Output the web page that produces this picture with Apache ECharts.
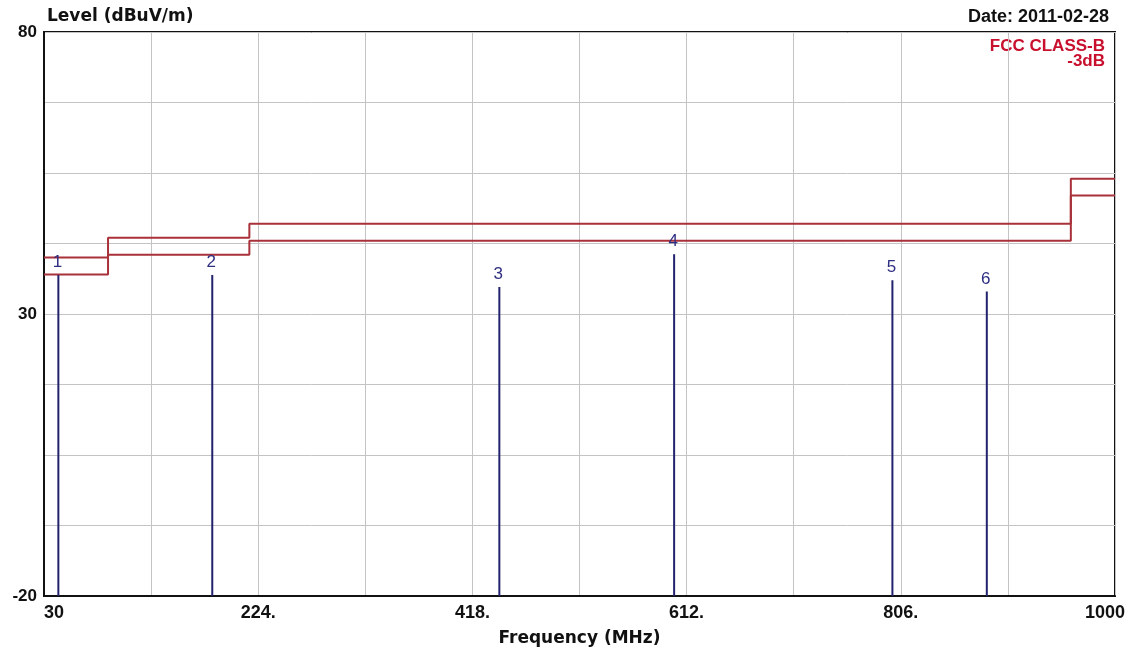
<!DOCTYPE html>
<html>
<head>
<meta charset="utf-8">
<script src="https://cdn.jsdelivr.net/npm/echarts@6/dist/echarts.min.js"></script>
<style>html,body{margin:0;padding:0;background:#fff;}#c{width:1137px;height:654px;}</style>
</head>
<body>
<div id="c"></div>
<script>
// Limit line: FCC Class B (step edges in MHz, levels in dBuV/m)
const limitEdges = [30, 88, 216, 960, 1000];
const limitLevels = [40, 43.5, 46, 54];
const marginLevels = [37, 40.5, 43, 51]; // limit -3dB
// Peak markers
const peakNames = ['1', '2', '3', '4', '5', '6'];
const peakFreqs = [43.0, 182.4, 442.4, 600.7, 798.4, 883.9];
const peakLevels = [36.9, 36.9, 34.8, 40.6, 36.0, 34.0];
// Axis labels
const xTickLabels = {30: '30', 224: '224.', 418: '418.', 612: '612.', 806: '806.', 1000: '1000'};
const yTickLabels = {'-20': '-20', '30': '30', '80': '80'};

function stepData(edges, levels) {
  const d = [];
  for (let i = 0; i < levels.length; i++) d.push([edges[i], levels[i]]);
  d.push([edges[edges.length - 1], levels[levels.length - 1]]);
  return d;
}

const chart = echarts.init(document.getElementById('c'));
const boldFont = 'Liberation Sans';
chart.setOption({
  animation: false,
  backgroundColor: '#fff',
  title: [
    {text: 'Level (dBuV/m)', left: 42, top: 3, textStyle: {fontFamily: 'DejaVu Sans', fontWeight: 'bold', fontSize: 17, color: '#111'}},
    {text: 'Date: 2011-02-28', right: 23, top: 3, textStyle: {fontFamily: boldFont, fontWeight: 'bold', fontSize: 18, color: '#111'}}
  ],
  graphic: [
    {type: 'text', x: 1105, y: 38, silent: true,
     style: {text: 'FCC CLASS-B', align: 'right', verticalAlign: 'top', fill: '#c8102e', font: 'bold 17px Liberation Sans'}},
    {type: 'text', x: 1105, y: 53, silent: true,
     style: {text: '-3dB', align: 'right', verticalAlign: 'top', fill: '#c8102e', font: 'bold 17px Liberation Sans'}}
  ],
  grid: {left: 44, right: 22, top: 32, bottom: 58, show: true, borderColor: '#111', borderWidth: 2, backgroundColor: 'transparent'},
  xAxis: {
    type: 'value', min: 30, max: 1000, interval: 97,
    name: 'Frequency (MHz)', nameLocation: 'middle', nameGap: 34,
    nameTextStyle: {fontFamily: 'DejaVu Sans', fontWeight: 'bold', fontSize: 17, color: '#111'},
    axisLine: {show: true, onZero: false, lineStyle: {color: '#111', width: 2}},
    axisTick: {show: false},
    splitLine: {show: true, lineStyle: {color: '#c4c4c4', width: 1}},
    axisLabel: {
      margin: 8, color: '#111', fontFamily: boldFont, fontWeight: 'bold', fontSize: 18,
      formatter: function (v) {
        const k = Math.round(v);
        if (k === 30) return '{l|30}';
        if (k === 1000) return '{r|1000}';
        return xTickLabels[k] || '';
      },
      rich: {
        l: {fontFamily: boldFont, fontWeight: 'bold', fontSize: 18, color: '#111', padding: [0, 0, 0, 20]},
        r: {fontFamily: boldFont, fontWeight: 'bold', fontSize: 18, color: '#111', padding: [0, 20, 0, 0]}
      }
    }
  },
  yAxis: {
    type: 'value', min: -20, max: 80, interval: 12.5,
    axisLine: {show: true, onZero: false, lineStyle: {color: '#111', width: 2}},
    axisTick: {show: false},
    splitLine: {show: true, lineStyle: {color: '#c4c4c4', width: 1}},
    axisLabel: {
      margin: 7, color: '#111', fontFamily: boldFont, fontWeight: 'bold', fontSize: 17,
      formatter: function (v) {
        const k = String(Math.round(v * 10) / 10);
        return yTickLabels[k] || '';
      }
    }
  },
  series: [
    {type: 'line', step: 'end', symbol: 'none', data: stepData(limitEdges, limitLevels),
     lineStyle: {color: '#a8313a', width: 2}, z: 3},
    {type: 'line', step: 'end', symbol: 'none', data: stepData(limitEdges, marginLevels),
     lineStyle: {color: '#a8313a', width: 2}, z: 3},
    {type: 'custom', z: 4,
     data: peakFreqs.map((f, i) => [f, peakLevels[i], peakNames[i]]),
     renderItem: function (params, api) {
       const f = api.value(0), lv = api.value(1);
       const p0 = api.coord([f, -20]);
       const p1 = api.coord([f, lv]);
       return {
         type: 'group',
         children: [
           {type: 'line', shape: {x1: p0[0], y1: p0[1], x2: p1[0], y2: p1[1]},
            style: {stroke: '#22226e', lineWidth: 2}},
           {type: 'text', x: p1[0] - 1, y: p1[1] - 4,
            style: {text: peakNames[params.dataIndex], align: 'center', verticalAlign: 'bottom',
                    font: '17px Liberation Sans', fill: '#2e2e82'}}
         ]
       };
     }
    }
  ]
});
</script>
</body>
</html>
